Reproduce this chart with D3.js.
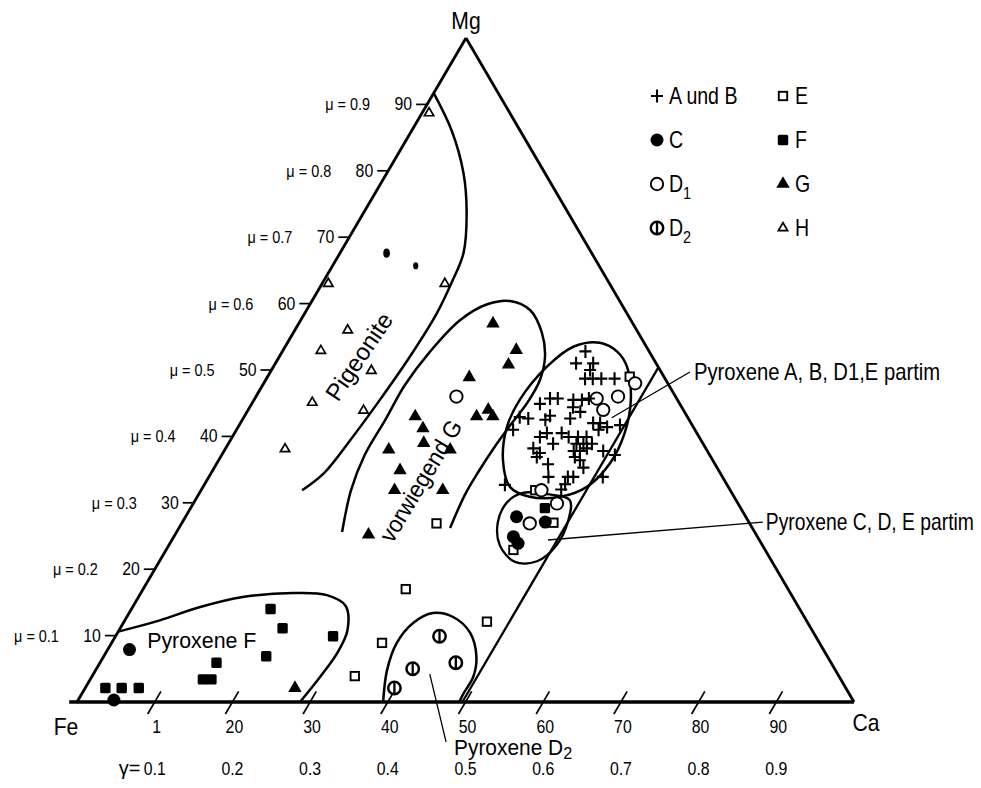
<!DOCTYPE html>
<html>
<head>
<meta charset="utf-8">
<script src="https://cdn.jsdelivr.net/npm/d3@7"></script>
<style>
body { margin: 0; background: #fff; }
svg text { font-family: "Liberation Sans", Arial, sans-serif; fill: #000; }
</style>
</head>
<body>
<svg id="chart" width="981" height="788"></svg>
<script>
// every point is [Ca, Mg] in percent (Fe = 100 - Ca - Mg)
var ptsAB = [[39.0,52.8],[38.7,51.0],[40.9,51.0],[41.0,50.0],[41.0,48.7],[42.0,48.7],[43.1,48.7],[44.8,48.7],
  [38.0,45.7],[39.0,45.7],[37.1,44.9],[41.1,45.5],[42.2,45.5],[43.0,45.7],[41.6,44.4],[42.9,43.7],
  [35.5,42.9],[36.7,42.7],[39.3,43.1],[39.0,42.5],[42.1,42.7],[45.4,42.0],[46.3,42.0],[47.5,41.4],
  [46.6,41.0],[35.6,41.0],[39.6,39.9],[40.2,40.5],[42.1,40.5],[43.3,39.9],[44.5,39.9],[45.6,39.9],
  [41.8,38.9],[44.8,38.9],[45.7,38.9],[46.8,38.9],[39.6,38.2],[40.8,37.5],[45.0,37.8],[45.8,37.8],
  [46.5,38.2],[48.8,37.8],[40.7,36.9],[45.6,36.9],[46.5,36.4],[42.7,35.8],[47.5,35.3],[43.7,33.9],
  [46.2,33.9],[46.9,33.9],[46.4,32.8],[46.3,32.0],[38.7,32.7],[50.7,33.9],[50.6,37.2],[49.0,41.7]];
var ptsC = [[42.6,27.9],[46.7,27.1],[43.7,24.9],[44.8,23.9],[2.8,7.9],[4.6,0.3]];
var ptsD1 = [[25.8,46.0],[44.0,45.7],[46.6,46.0],[45.7,44.0],[47.8,48.0],[43.8,31.9],[46.8,29.9],[44.8,26.9]];
var ptsD2 = [[41.7,9.9],[45.8,5.9],[40.7,5.0],[39.8,2.1]];
var ptsE = [[46.6,49.0],[43.0,31.9],[47.8,27.0],[44.7,22.9],[32.8,26.9],[33.8,17.0],[46.7,12.1],[34.8,8.9],[33.8,3.9]];
var ptsF = [[2.6,2.1],[4.7,2.1],[6.9,2.1],[15.0,5.9],[14.5,3.4],[15.6,3.4],[17.9,14.0],[20.9,11.1],[20.9,6.9],[28.0,9.9],[45.6,29.2]];
var ptsG = [[25.0,57.0],[30.0,53.0],[30.1,50.8],[26.0,48.9],[29.9,43.0],[30.9,44.0],[32.0,43.0],[22.0,43.0],
  [23.9,41.2],[25.1,39.0],[29.0,38.0],[21.1,38.0],[24.1,34.9],[24.9,31.9],[31.1,31.9],[24.9,25.2],[27.0,2.1]];
var ptsH = [[0.9,88.7],[0.8,63.0],[15.8,63.0],[6.8,56.0],[4.9,52.9],[12.9,49.9],[7.7,45.1],[14.9,43.9],[7.7,38.1]];
var smallDots = [[6.0,67.6],[10.7,65.7]];

// field boundaries
var curvePigeonite = [[0,91.7],[5.1,86.1],[9.9,79.6],[13.3,73.6],[15.9,67.6],[16.6,63.1],[17.0,58.5],[16.8,52.0],[16.2,45.5],[15.5,40.0],[14.5,34.4],[13.0,31.9]];
var curveG = [[21.3,25.6],[19.3,31.9],[18.4,37.2],[18.4,42.5],[18.3,47.7],[19.0,52.7],[20.5,57.5],[22.8,59.9],[25.5,60.4],[28.8,59.0],
  [32.0,55.6],[34.2,52.0],[35.3,48.5],[35.4,45.2],[34.9,41.7],[34.5,38.3],[34.3,34.6],[34.3,31.2],[34.9,26.2]];
var loopAB = [[40.2,54.1],[43.2,52.7],[45.5,50.5],[48.5,45.5],[50.2,40.5],[50.6,36.0],[49.4,32.4],[46.7,30.9],
  [42.8,30.9],[39.5,32.4],[36.6,36.4],[34.6,41.4],[34.2,45.5],[35.2,50.5],[37.1,53.5]];
var loopCD = [[41.6,31.5],[44.8,31.3],[48.2,30.4],[49.6,27.1],[49.9,23.6],[48.6,21.2],[45.8,21.1],[42.6,23.6],[40.6,27.1],[40.3,30.1]];
var curveF = [[0,10.6],[4.5,12.3],[8.7,14.3],[13.4,15.8],[19.6,16.4],[24.1,16.1],[27.3,14.5],[29.4,10.8],[29.8,7.4],[29.4,3.8],[28.7,0]];
var curveD2 = [[39.4,0],[37.5,4.8],[36.7,8.9],[37.3,11.9],[39.1,13.4],[42.0,12.8],[45.4,10.4],[48.0,6.8],[49.1,3.8],[49.1,1.3],[49.2,0]];
var lineCa50 = [[49.6,0],[49.6,50.5]];

// axes
var caTicks = [10,20,30,40,50,60,70,80,90];
var caTickLabels = ["1","20","30","40","50","60","70","80","90"];
var gammaLabels = ["0.1","0.2","0.3","0.4","0.5","0.6","0.7","0.8","0.9"];
var mgTicks = [10,20,30,40,50,60,70,80,90];
var mgTickLabels = ["10","20","30","40","50","60","70","80","90"];
var muLabels = ["\u03bc = 0.1","\u03bc = 0.2","\u03bc = 0.3","\u03bc = 0.4","\u03bc = 0.5","\u03bc = 0.6","\u03bc = 0.7","\u03bc = 0.8","\u03bc = 0.9"];

// annotations: [inner end, outer end] of leader
var annoAB = {text: "Pyroxene A, B, D1,E partim", from: [47.4,42.8], to: [54.0,49.7]};
var annoCD = {text: "Pyroxene C, D, E partim", from: [48.4,24.4], to: [74.7,27.1]};
var annoD2 = {text: "Pyroxene D", sub: "2", from: [43.3,4.2], to: [50.5,-6.0]};

var svg = d3.select('#chart');
var vFe = [77, 702], vCa = [854, 702], vMg = [466, 38];
var caX = d3.scaleLinear().domain([0,100]).range([0, vCa[0]-vFe[0]]);
var mgX = d3.scaleLinear().domain([0,100]).range([0, vMg[0]-vFe[0]]);
var mgY = d3.scaleLinear().domain([0,100]).range([vFe[1], vMg[1]]);
var proj = function(d){ return [vFe[0] + caX(d[0]) + mgX(d[1]), mgY(d[1])]; };

// text helper: narrow lettering is faked with a horizontal squeeze
var addText = function(x, y, str, size, opt){
    opt = opt || {};
    var g = svg.append('g').attr('transform','translate('+x+','+y+') rotate('+(opt.rot || 0)+') scale('+(opt.sx || 1)+',1)');
    return g.append('text').attr('text-anchor', opt.anchor || 'start').attr('dy', opt.dy || 0).attr('font-size', size).text(str);
};

var lineOpen = d3.line().x(function(d){ return proj(d)[0]; }).y(function(d){ return proj(d)[1]; }).curve(d3.curveCatmullRom.alpha(0.5));
var lineClosed = d3.line().x(function(d){ return proj(d)[0]; }).y(function(d){ return proj(d)[1]; }).curve(d3.curveCatmullRomClosed.alpha(0.5));
var lineStraight = d3.line().x(function(d){ return proj(d)[0]; }).y(function(d){ return proj(d)[1]; });

// triangle frame
svg.append('path').attr('d', lineStraight([[0,100],[0,0]])).attr('stroke','#000').attr('stroke-width',2.8).attr('fill','none');
svg.append('path').attr('d', lineStraight([[0,100],[100,0]])).attr('stroke','#000').attr('stroke-width',2.8).attr('fill','none');
svg.append('path').attr('d', lineStraight([[-1,0],[100,0]])).attr('stroke','#000').attr('stroke-width',3.6).attr('fill','none');

// bottom ticks (slashes along constant Ca)
caTicks.forEach(function(c, i){
    var a = proj([c,-1.8]), b = proj([c,1.6]);
    svg.append('line').attr('x1',a[0]).attr('y1',a[1]).attr('x2',b[0]).attr('y2',b[1]).attr('stroke','#000').attr('stroke-width',1.7);
    var p = proj([c,0]);
    addText(p[0]+2, p[1]+31, caTickLabels[i], 18, {anchor:'middle', sx:0.88});
    addText(p[0], p[1]+73, gammaLabels[i], 18, {anchor:'middle', sx:0.88});
});
addText(proj([10,0])[0]-25, vFe[1]+73, '\u03b3=', 20, {anchor:'middle'});

// left ticks
mgTicks.forEach(function(m, i){
    var p = proj([0,m]);
    svg.append('line').attr('x1',p[0]).attr('y1',p[1]).attr('x2',p[0]-11).attr('y2',p[1]).attr('stroke','#000').attr('stroke-width',1.7);
    addText(p[0]-15, p[1]+6, mgTickLabels[i], 18, {anchor:'end', sx:0.88});
    addText(p[0]-57, p[1]+6, muLabels[i], 17, {anchor:'end', sx:0.85});
});

// vertex labels
addText(vMg[0], vMg[1]-9, 'Mg', 24, {anchor:'middle', sx:0.88});
addText(vFe[0]-11, vFe[1]+33, 'Fe', 24, {anchor:'middle', sx:0.88});
addText(vCa[0]+12, vCa[1]+29, 'Ca', 24, {anchor:'middle', sx:0.88});

// boundaries
var drawCurve = function(pts, gen, w){
    svg.append('path').attr('d', gen(pts)).attr('fill','none').attr('stroke','#000').attr('stroke-width',w);
};
drawCurve(curvePigeonite, lineOpen, 2.5);
drawCurve(curveG, lineOpen, 2.5);
drawCurve(loopAB, lineClosed, 2.5);
drawCurve(loopCD, lineClosed, 2.3);
drawCurve(curveF, lineOpen, 2.5);
drawCurve(curveD2, lineOpen, 2.5);
drawCurve(lineCa50, lineStraight, 2.3);

// annotations
[annoAB, annoCD, annoD2].forEach(function(a){
    var p0 = proj(a.from), p1 = proj(a.to);
    svg.append('line').attr('x1',p0[0]).attr('y1',p0[1]).attr('x2',p1[0]).attr('y2',p1[1]).attr('stroke','#000').attr('stroke-width',1.3);
});
var pA = proj(annoAB.to);
addText(pA[0]+4, pA[1]+8, annoAB.text, 23, {sx:0.88});
var pC = proj(annoCD.to);
addText(pC[0]+3, pC[1]+8, annoCD.text, 23, {sx:0.84});
var pD = proj(annoD2.to);
var tD = addText(pD[0]+8, pD[1]+13, annoD2.text, 22, {sx:0.95});
tD.append('tspan').attr('dy',4).attr('font-size',17).text(annoD2.sub);

// field names
var pPig = proj([10.3,52.0]);
addText(pPig[0], pPig[1], 'Pigeonite', 24, {anchor:'middle', rot:-56, dy:8});
var pVor = proj([27.6,33.3]);
addText(pVor[0], pVor[1], 'vorwiegend G', 24, {anchor:'middle', rot:-59, dy:8, sx:0.93});
var pF = proj([11.4,9.3]);
addText(pF[0], pF[1]+8, 'Pyroxene F', 23, {anchor:'middle', sx:0.93});

// marker painters
var triG = d3.symbol().type(d3.symbolTriangle).size(78);
var triH = d3.symbol().type(d3.symbolTriangle).size(38);
var markers = {
    cross: function(g){ g.append('path').attr('d','M-6,0H6M0,-6.5V6.5').attr('stroke','#000').attr('stroke-width',2.1).attr('fill','none'); },
    C: function(g){ g.append('circle').attr('r',6.5).attr('fill','#000'); },
    D1: function(g){ g.append('circle').attr('r',6.2).attr('fill','#fff').attr('stroke','#000').attr('stroke-width',1.9); },
    D2: function(g){ g.append('circle').attr('r',6.2).attr('fill','#fff').attr('stroke','#000').attr('stroke-width',2.5);
        g.append('line').attr('x1',0).attr('y1',-6).attr('x2',0).attr('y2',6).attr('stroke','#000').attr('stroke-width',2.3); },
    E: function(g){ g.append('rect').attr('x',-4.2).attr('y',-4.2).attr('width',8.4).attr('height',8.4).attr('fill','#fff').attr('stroke','#000').attr('stroke-width',1.9); },
    F: function(g){ g.append('rect').attr('x',-5.2).attr('y',-5.2).attr('width',10.4).attr('height',10.4).attr('rx',1.5).attr('fill','#000'); },
    G: function(g){ g.append('path').attr('d',triG()).attr('fill','#000'); },
    H: function(g){ g.append('path').attr('d',triH()).attr('fill','#fff').attr('stroke','#000').attr('stroke-width',1.7); }
};
var drawSeries = function(pts, kind){
    pts.forEach(function(d){
        var p = proj(d);
        var g = svg.append('g').attr('transform','translate('+p[0]+','+p[1]+')');
        markers[kind](g);
    });
};
drawSeries(ptsE, 'E');
drawSeries(ptsD1, 'D1');
drawSeries(ptsAB, 'cross');
drawSeries(ptsH, 'H');
drawSeries(ptsG, 'G');
drawSeries(ptsF, 'F');
drawSeries(ptsC, 'C');
drawSeries(ptsD2, 'D2');
smallDots.forEach(function(d, i){
    var p = proj(d);
    svg.append('ellipse').attr('cx',p[0]).attr('cy',p[1]).attr('rx',i ? 2.6 : 3.3).attr('ry',i ? 3.6 : 4.6).attr('fill','#000');
});

// legend
var legendKinds = ['cross','E','C','F','D1','G','D2','H'];
var legendText = ['A und B','E','C','F','D','G','D','H'];
var legendSub = ['','','','','1','','2',''];
legendKinds.forEach(function(k, i){
    var col = i % 2, row = Math.floor(i / 2);
    var sx = col ? 783 : 657, sy = 96 + row * 44;
    var g = svg.append('g').attr('transform','translate('+sx+','+sy+')');
    markers[k](g);
    var t = addText(sx + 12, sy + 8, legendText[i], 23, {sx:0.85});
    if (legendSub[i]) t.append('tspan').attr('dy',7).attr('font-size',17).text(legendSub[i]);
});
</script>
</body>
</html>
